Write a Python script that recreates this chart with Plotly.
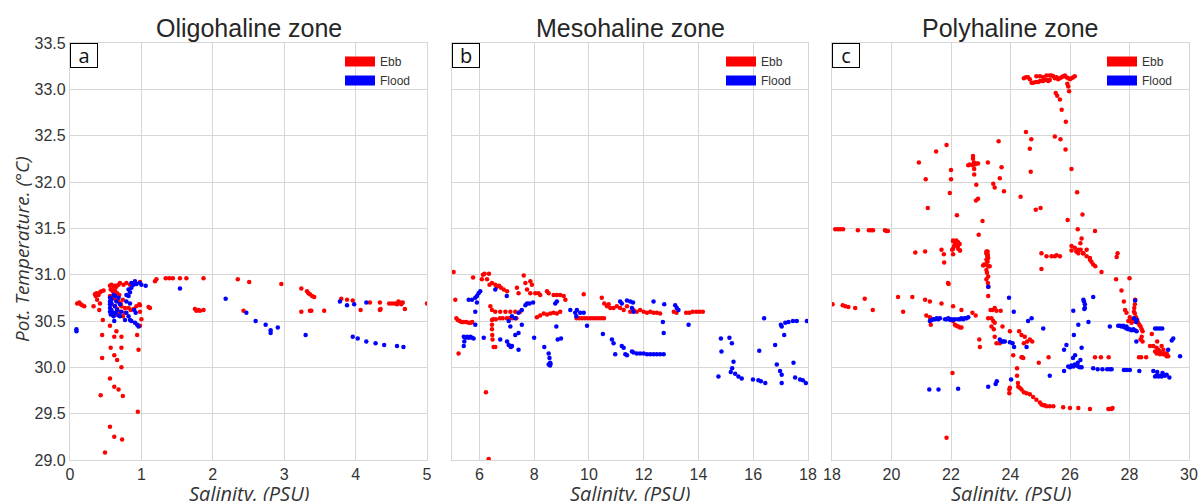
import plotly.graph_objects as go

# ---------------- data (salinity PSU, potential temperature °C) ----------------
a_ebb = [
    (0.10, 30.69), (0.13, 30.70), (0.15, 30.68), (0.17, 30.67), (0.20, 30.66),
    (0.35, 30.79), (0.37, 30.80), (0.40, 30.78), (0.42, 30.81), (0.44, 30.82), (0.47, 30.83),
    (0.33, 30.66), (0.36, 30.77), (0.38, 30.73), (0.42, 30.69), (0.41, 30.62),
    (0.56, 30.88), (0.58, 30.89), (0.61, 30.87), (0.63, 30.88), (0.65, 30.87), (0.57, 30.84),
    (0.60, 30.82), (0.63, 30.83), (0.66, 30.80), (0.69, 30.78), (0.56, 30.77), (0.61, 30.75),
    (0.64, 30.73), (0.68, 30.71), (0.71, 30.69), (0.58, 30.68), (0.63, 30.66), (0.66, 30.63),
    (0.70, 30.60), (0.61, 30.59), (0.65, 30.57), (0.72, 30.66), (0.74, 30.73), (0.68, 30.89),
    (0.70, 30.91), (0.75, 30.89), (0.79, 30.91), (0.84, 30.89), (0.91, 30.92), (0.82, 30.64),
    (0.85, 30.62), (0.89, 30.63), (0.93, 30.66), (0.97, 30.68), (0.98, 30.60), (0.77, 30.59),
    (0.74, 30.55), (0.77, 30.64), (1.10, 30.65), (1.12, 30.64), (1.21, 30.95), (1.19, 30.93),
    (0.46, 30.51), (0.45, 30.35), (0.45, 30.10), (0.56, 30.45), (0.62, 30.33), (0.65, 30.39),
    (0.72, 30.33), (0.57, 30.21), (0.72, 30.21), (0.62, 30.13), (0.66, 30.08), (0.72, 30.00),
    (0.94, 30.35), (0.96, 30.19), (0.56, 29.88), (0.62, 29.79), (0.68, 29.76), (0.43, 29.70),
    (0.74, 29.69), (0.95, 29.52), (0.56, 29.36), (0.62, 29.25), (0.73, 29.22), (0.49, 29.08),
    (0.98, 30.92), (0.98, 30.67), (1.00, 30.52), (0.98, 30.45),
    (1.34, 30.96), (1.39, 30.96), (1.44, 30.96), (1.54, 30.96), (1.63, 30.96), (1.87, 30.96),
    (1.75, 30.63), (1.77, 30.61), (1.80, 30.62), (1.82, 30.61), (1.87, 30.62), (2.35, 30.95),
    (2.51, 30.92), (2.43, 30.61), (2.96, 30.90), (3.24, 30.85), (3.32, 30.82), (3.34, 30.80),
    (3.36, 30.79), (3.39, 30.77), (3.42, 30.76), (3.24, 30.60), (3.36, 30.61), (3.38, 30.61),
    (3.56, 30.61), (3.80, 30.74), (3.88, 30.73), (3.96, 30.72), (4.07, 30.62), (4.20, 30.70),
    (4.34, 30.70), (4.34, 30.62), (4.35, 30.63), (4.47, 30.69), (4.51, 30.69), (4.55, 30.69),
    (4.58, 30.68), (4.62, 30.70), (4.66, 30.70), (4.60, 30.71), (4.64, 30.68), (4.69, 30.63),
    (5.00, 30.69),
]
a_flood = [
    (0.09, 30.41), (0.09, 30.39),
    (0.56, 30.75), (0.56, 30.71), (0.56, 30.68), (0.56, 30.64), (0.56, 30.60), (0.57, 30.57),
    (0.58, 30.69), (0.60, 30.59), (0.61, 30.55), (0.63, 30.66), (0.64, 30.59), (0.66, 30.62),
    (0.65, 30.71), (0.68, 30.56), (0.62, 30.50), (0.58, 30.73), (0.58, 30.62), (0.61, 30.78),
    (0.63, 30.77), (0.68, 30.75), (0.70, 30.68), (0.72, 30.60), (0.70, 30.55),
    (0.79, 30.78), (0.82, 30.77), (0.84, 30.81), (0.82, 30.84), (0.79, 30.71), (0.84, 30.69),
    (0.86, 30.86), (0.89, 30.89), (0.86, 30.91), (0.91, 30.93), (0.93, 30.90), (0.98, 30.91),
    (1.06, 30.88), (0.82, 30.55), (0.84, 30.51), (0.86, 30.50), (0.91, 30.48), (0.94, 30.46),
    (0.96, 30.44), (0.92, 30.59), (0.90, 30.62), (0.79, 30.59), (0.77, 30.51),
    (1.54, 30.85), (1.00, 30.89), (2.18, 30.74), (2.47, 30.59), (2.60, 30.50), (2.74, 30.46),
    (2.81, 30.40), (2.81, 30.37), (2.91, 30.43), (3.30, 30.35), (3.78, 30.71), (3.88, 30.67),
    (3.98, 30.68), (4.15, 30.70), (3.96, 30.33), (4.03, 30.31), (4.15, 30.28), (4.28, 30.26),
    (4.40, 30.24), (4.58, 30.23), (4.67, 30.22),
]
b_ebb = [
    (5.06, 31.03), (5.12, 30.73), (5.24, 30.15), (6.24, 29.73), (6.34, 29.01),
    (5.16, 30.53), (5.21, 30.51), (5.28, 30.50), (5.35, 30.49), (5.43, 30.49), (5.52, 30.49),
    (5.61, 30.48), (5.69, 30.48), (5.74, 30.49),
    (5.77, 30.97), (6.09, 30.95), (6.13, 31.00), (6.19, 31.01), (6.35, 31.01), (6.28, 30.95),
    (6.37, 30.89), (6.46, 30.91), (6.58, 30.89), (6.64, 30.87), (6.72, 30.88), (6.79, 30.86),
    (6.89, 30.84), (7.01, 30.82),
    (6.46, 30.51), (6.46, 30.46), (6.46, 30.41), (6.47, 30.35), (6.48, 30.30), (6.52, 30.22),
    (6.58, 30.22),
    (6.50, 30.52), (6.60, 30.52), (6.75, 30.53), (6.85, 30.53), (7.00, 30.53), (7.10, 30.53),
    (7.20, 30.53), (7.35, 30.53),
    (6.40, 30.66), (6.46, 30.62), (6.58, 30.60), (6.76, 30.60), (6.95, 30.60), (7.13, 30.60),
    (7.31, 30.60), (7.49, 30.60),
    (7.37, 30.86), (7.43, 30.80), (7.62, 30.99), (7.68, 30.91), (7.74, 30.84), (7.86, 30.93),
    (7.92, 30.89), (7.86, 30.80), (8.04, 30.80), (8.16, 30.80), (8.22, 30.78),
    (8.10, 30.54), (8.22, 30.56), (8.35, 30.58), (8.47, 30.57), (8.59, 30.58), (8.71, 30.59),
    (8.83, 30.58), (8.95, 30.60),
    (8.47, 30.82), (8.53, 30.80), (8.71, 30.78), (8.83, 30.78), (8.95, 30.78), (9.08, 30.77),
    (9.14, 30.73), (9.81, 30.79),
    (9.55, 30.53), (9.65, 30.53), (9.75, 30.53), (9.85, 30.53), (9.95, 30.53), (10.05, 30.53),
    (10.15, 30.53), (10.25, 30.53), (10.35, 30.53), (10.45, 30.53), (10.55, 30.53),
    (10.47, 30.75), (10.56, 30.69), (10.66, 30.66), (10.72, 30.68), (10.78, 30.64), (10.90, 30.64),
    (11.02, 30.66), (11.14, 30.64), (11.27, 30.62), (11.39, 30.66), (11.51, 30.60), (11.63, 30.62),
    (11.75, 30.60), (11.87, 30.62), (12.00, 30.60), (12.12, 30.59), (12.24, 30.60), (12.36, 30.59),
    (12.48, 30.59), (12.60, 30.58),
    (13.10, 30.60), (13.20, 30.59), (13.55, 30.59), (13.67, 30.59), (13.79, 30.60), (13.92, 30.60),
    (14.04, 30.60), (14.16, 30.60),
]
b_flood = [
    (5.43, 30.33), (5.45, 30.28), (5.43, 30.23), (5.49, 30.32), (5.61, 30.32), (5.73, 30.32),
    (5.79, 30.31), (5.67, 30.33), (5.55, 30.33),
    (5.61, 30.73), (5.73, 30.73), (5.85, 30.75), (5.91, 30.77), (5.97, 30.80), (6.03, 30.82),
    (5.85, 30.60), (5.91, 30.70), (5.85, 30.46),
    (6.16, 30.32), (6.58, 30.84), (6.76, 30.30),
    (7.01, 30.28), (7.07, 30.24), (7.13, 30.23), (7.19, 30.23), (7.15, 30.22), (7.43, 30.19),
    (7.00, 30.77), (7.07, 30.50), (7.13, 30.44), (7.19, 30.55), (7.31, 30.35), (7.43, 30.37),
    (7.55, 30.46), (7.31, 30.53), (7.43, 30.59), (7.55, 30.62), (7.68, 30.67), (7.74, 30.69),
    (7.83, 30.69), (7.96, 30.70),
    (8.00, 30.32), (8.37, 30.22),
    (8.53, 30.15), (8.56, 30.10), (8.58, 30.05), (8.58, 30.02), (8.53, 30.03), (8.60, 30.04),
    (8.77, 30.69), (8.83, 30.71), (8.81, 30.44), (8.86, 30.30), (8.98, 30.31),
    (9.32, 30.62), (9.50, 30.59), (9.56, 30.62), (9.68, 30.59), (9.54, 30.55), (9.93, 30.45),
    (9.81, 30.59), (10.51, 30.36),
    (10.84, 30.30), (10.90, 30.26), (10.96, 30.14), (11.20, 30.23), (11.27, 30.21), (11.33, 30.14),
    (11.39, 30.13), (11.57, 30.17), (11.63, 30.16), (11.75, 30.15), (11.87, 30.15), (12.00, 30.15),
    (12.12, 30.14), (12.24, 30.14), (12.36, 30.14), (12.48, 30.14), (12.60, 30.14), (12.73, 30.14),
    (11.14, 30.71), (11.20, 30.69), (11.39, 30.72), (11.51, 30.71), (11.61, 30.70), (11.57, 30.64),
    (11.63, 30.60), (12.36, 30.71), (12.75, 30.68), (12.70, 30.49), (12.73, 30.37), (13.15, 30.67),
    (13.21, 30.64), (13.27, 30.62), (13.64, 30.46),
    (14.73, 29.90), (14.82, 30.31), (14.84, 30.17), (15.13, 30.32), (15.22, 30.26), (15.28, 30.06),
    (15.23, 29.99), (15.18, 29.95), (15.34, 29.93), (15.46, 29.90), (15.58, 29.88), (15.99, 29.87),
    (16.19, 29.86), (16.28, 29.85), (16.44, 29.83), (16.40, 30.53), (16.22, 30.18), (16.80, 30.24),
    (16.86, 30.03), (16.98, 29.96), (17.04, 29.92), (17.04, 29.83), (17.01, 30.46), (17.13, 30.35),
    (17.04, 30.44), (17.17, 30.48), (17.29, 30.49), (17.45, 30.50), (17.59, 30.50), (17.96, 30.50),
    (17.47, 30.05), (17.53, 29.89), (17.71, 29.87), (17.81, 29.86), (17.92, 29.83),
]
c_ebb = [
    (24.45, 33.12), (24.52, 33.13), (24.59, 33.13), (24.65, 33.11), (24.71, 33.07), (24.76, 33.07),
    (24.85, 33.08), (24.93, 33.08), (24.99, 33.09), (25.04, 33.09), (25.10, 33.09), (25.15, 33.10),
    (25.21, 33.10), (25.27, 33.09), (25.32, 33.10), (25.38, 33.15), (25.44, 33.14), (25.49, 33.12),
    (25.55, 33.13), (25.60, 33.11), (25.66, 33.12), (25.72, 33.13), (25.77, 33.14), (25.83, 33.15),
    (25.88, 33.13), (25.94, 33.12), (26.00, 33.11), (26.05, 33.12), (26.11, 33.13), (26.16, 33.14),
    (24.87, 33.14), (24.99, 33.14), (25.10, 33.13), (25.21, 33.15), (25.32, 33.15), (25.91, 33.06),
    (25.94, 33.03), (25.97, 32.98),
    (25.52, 32.96), (25.57, 32.93), (25.66, 32.89), (25.72, 32.78), (25.86, 32.65),
    (24.52, 32.54), (24.70, 32.46), (24.65, 32.36), (24.68, 32.11), (25.49, 32.49), (25.68, 32.46),
    (25.85, 32.35), (26.05, 32.14),
    (23.60, 32.44), (23.70, 32.16), (23.64, 32.04), (23.42, 31.98), (23.47, 31.94), (23.78, 31.90),
    (23.24, 32.21),
    (22.74, 32.28), (22.74, 32.25), (22.77, 32.21), (22.80, 32.19), (22.72, 32.18), (22.63, 32.19),
    (22.58, 32.18), (22.85, 32.20), (22.91, 32.20), (22.78, 32.14), (22.78, 32.08),
    (21.85, 32.40), (21.50, 32.33), (20.92, 32.21), (21.15, 32.03), (22.00, 32.13), (22.00, 32.03),
    (21.96, 31.88), (21.22, 31.72), (22.20, 31.64), (22.85, 31.97), (22.84, 31.80), (22.91, 31.82),
    (23.06, 31.58), (22.93, 31.43), (24.34, 31.84), (24.85, 31.70), (25.01, 31.72), (25.92, 31.59),
    (26.42, 31.65), (26.24, 31.89), (26.26, 31.49), (26.84, 31.47), (26.39, 31.39),
    (18.11, 31.49), (18.20, 31.49), (18.28, 31.49), (18.37, 31.49), (18.87, 31.48), (19.24, 31.48),
    (19.32, 31.48), (19.38, 31.48), (19.78, 31.48), (19.83, 31.47), (19.88, 31.47),
    (22.12, 31.36), (22.18, 31.37), (22.24, 31.35), (22.29, 31.33), (22.07, 31.37),
    (22.07, 31.28), (22.30, 31.26), (21.13, 31.25),
    (23.23, 31.25), (23.23, 31.22), (23.23, 31.20),
    (25.04, 31.23), (25.21, 31.20), (25.38, 31.20), (25.49, 31.20), (25.55, 31.21), (25.66, 31.20),
    (26.05, 31.26), (26.22, 31.25), (26.28, 31.23), (26.36, 31.27), (26.45, 31.23), (26.56, 31.20),
    (26.67, 31.16), (27.57, 31.19),
    (22.07, 31.36), (22.13, 31.35), (22.18, 31.33), (22.24, 31.32), (22.10, 31.31), (22.21, 31.31),
    (22.04, 31.27), (22.07, 31.22), (22.24, 31.28), (22.30, 31.26), (21.76, 31.22), (21.68, 31.27),
    (21.77, 31.13), (21.90, 30.91),
    (23.19, 31.25), (23.19, 31.23), (23.21, 31.22), (23.23, 31.20), (23.25, 31.18), (23.19, 31.16),
    (23.23, 31.14), (23.16, 31.11), (23.11, 31.11), (23.25, 31.09), (23.19, 31.05), (23.21, 31.02),
    (23.25, 30.98), (23.19, 30.95), (23.24, 30.91), (23.26, 30.87), (23.30, 31.09), (23.08, 31.10),
    (20.80, 31.24), (25.04, 31.06),
    (26.05, 31.31), (26.16, 31.29), (26.22, 31.25), (26.28, 31.27), (26.35, 31.34), (26.44, 31.23),
    (26.56, 31.27), (26.67, 31.18), (26.72, 31.14), (26.78, 31.11), (26.85, 31.09), (27.06, 31.03),
    (27.60, 31.23), (27.55, 30.95), (28.00, 30.96), (27.73, 30.83), (27.81, 30.71), (28.19, 30.73),
    (28.18, 30.68), (28.16, 30.64), (28.15, 30.60), (28.18, 30.58), (28.22, 30.54), (28.26, 30.51),
    (28.29, 30.48), (28.33, 30.46), (28.37, 30.44), (28.41, 30.41), (28.44, 30.39), (28.41, 30.33),
    (28.37, 30.30), (28.44, 30.28), (28.13, 30.50), (28.07, 30.52), (28.01, 30.54), (27.90, 30.59),
    (27.85, 30.62), (27.96, 30.50), (28.07, 30.48),
    (28.75, 30.36), (28.93, 30.28), (28.69, 30.23), (28.80, 30.23), (28.91, 30.21), (28.97, 30.19),
    (29.02, 30.17), (29.08, 30.15), (29.14, 30.14), (29.19, 30.14), (29.25, 30.12), (29.30, 30.12),
    (29.02, 30.14), (29.08, 30.23), (29.14, 30.19), (29.19, 30.15), (28.91, 30.15), (28.86, 30.17),
    (29.25, 30.15),
    (28.32, 30.11), (28.39, 30.11), (28.56, 30.11), (26.84, 30.11), (27.04, 30.11), (27.30, 30.11),
    (25.28, 30.11), (24.95, 30.05), (24.39, 30.11),
    (20.22, 30.76), (20.70, 30.76), (21.13, 30.73), (21.29, 30.71), (20.39, 30.60), (21.68, 30.69),
    (22.07, 30.66), (22.35, 30.62), (22.72, 30.59), (22.83, 30.56), (21.17, 30.56), (21.29, 30.54),
    (21.32, 30.46), (21.92, 30.90),
    (22.07, 30.50), (22.13, 30.46), (22.18, 30.45), (22.24, 30.44), (22.30, 30.43), (22.35, 30.43),
    (23.25, 30.77), (23.33, 30.62), (23.40, 30.62), (23.47, 30.64), (23.53, 30.61), (23.67, 30.61),
    (23.25, 30.53), (23.36, 30.53), (23.42, 30.50), (23.36, 30.44), (23.47, 30.48), (23.44, 30.41),
    (23.47, 30.33), (23.53, 30.26), (23.64, 30.26), (23.70, 30.28),
    (22.95, 30.30), (22.97, 30.22), (24.09, 30.13), (24.37, 30.11), (24.43, 30.10),
    (23.73, 30.44), (23.98, 30.39), (24.29, 30.39), (24.37, 30.35), (24.48, 30.33), (24.45, 30.26),
    (24.56, 30.28), (24.65, 30.30), (24.73, 30.28),
    (24.22, 29.99), (24.22, 29.91), (24.25, 29.83), (24.26, 29.79), (24.31, 29.78), (24.37, 29.76),
    (24.45, 29.73), (24.54, 29.72), (24.65, 29.71), (24.76, 29.68), (24.87, 29.65), (24.99, 29.62),
    (25.04, 29.60), (25.10, 29.59), (25.15, 29.59), (25.21, 29.58), (25.32, 29.58), (25.44, 29.58),
    (25.77, 29.57), (26.00, 29.56), (26.28, 29.56), (26.67, 29.55), (27.29, 29.55), (27.34, 29.55),
    (27.40, 29.55), (27.43, 29.56),
    (23.96, 29.76), (23.96, 29.72), (23.98, 29.78), (21.85, 29.24), (22.05, 29.94),
    (18.02, 30.68), (18.36, 30.67), (18.45, 30.66), (18.55, 30.65), (18.78, 30.64), (19.10, 30.74),
    (19.37, 30.62),
]
c_flood = [
    (21.29, 30.50), (21.35, 30.51), (21.40, 30.52), (21.46, 30.52), (21.52, 30.53), (21.57, 30.52),
    (21.63, 30.53), (21.80, 30.52), (21.85, 30.52), (21.91, 30.53), (21.97, 30.51), (22.02, 30.52),
    (22.07, 30.51), (22.13, 30.52), (22.24, 30.52), (22.30, 30.52), (22.35, 30.53), (22.41, 30.52),
    (22.46, 30.53), (22.52, 30.53), (22.58, 30.54),
    (21.27, 29.76), (21.58, 29.76), (22.24, 29.77),
    (23.25, 30.87), (23.95, 30.75), (24.11, 30.60), (24.59, 30.50), (24.71, 30.53), (25.10, 30.42),
    (23.64, 30.30), (23.70, 30.28), (23.75, 30.28), (23.81, 30.28), (23.98, 30.27), (24.07, 30.26),
    (24.12, 30.22), (24.54, 30.22),
    (23.25, 29.79), (23.50, 29.82), (23.54, 29.85), (24.02, 29.87),
    (25.32, 29.91), (25.80, 29.96), (25.80, 30.19), (25.88, 30.24), (26.13, 30.35), (26.28, 30.46),
    (26.11, 30.61), (26.45, 30.73), (26.47, 30.71), (26.50, 30.68), (26.50, 30.64), (26.48, 30.63),
    (26.78, 30.76), (26.62, 30.49), (26.39, 30.21), (26.10, 30.10), (26.17, 30.13), (26.35, 30.08),
    (26.26, 30.05),
    (25.94, 30.01), (26.00, 30.00), (26.05, 30.02), (26.11, 30.01), (26.16, 30.03), (26.22, 30.02),
    (26.28, 30.01), (26.33, 30.00), (26.39, 30.00),
    (26.78, 29.99), (26.93, 29.98), (27.09, 29.98), (27.25, 29.98), (27.34, 29.98), (27.40, 29.98),
    (27.81, 29.97), (27.90, 29.97), (28.01, 29.97), (28.33, 29.96),
    (27.34, 30.44),
    (27.62, 30.45), (27.68, 30.45), (27.73, 30.44), (27.79, 30.44), (27.85, 30.43), (27.90, 30.42),
    (27.96, 30.41), (28.01, 30.41), (28.07, 30.40), (28.13, 30.41), (28.18, 30.40), (28.24, 30.39),
    (27.79, 30.45), (27.90, 30.44), (28.22, 30.49), (28.24, 30.51), (28.15, 30.53), (28.19, 30.72),
    (28.23, 30.28), (28.86, 30.42), (28.93, 30.42), (29.02, 30.42), (29.10, 30.42), (29.30, 30.19),
    (29.42, 30.29), (29.47, 30.31), (29.70, 30.12),
    (28.80, 29.96), (28.86, 29.90), (28.91, 29.91), (28.97, 29.90), (29.02, 29.91), (29.08, 29.90),
    (29.14, 29.92), (29.19, 29.91), (29.25, 29.92), (29.34, 29.89), (28.93, 29.95), (29.11, 29.94),
]

panel_titles = ["Oligohaline zone", "Mesohaline zone", "Polyhaline zone"]
panel_letters = ["a", "b", "c"]
x_ranges = [(0, 5), (5, 18), (18, 30)]
x_dticks = [1, 2, 2]
y_range = (29.0, 33.5)
series_names = ["Ebb", "Flood"]
series_colors = ["#ff0000", "#0000ff"]
x_label = "Salinity. (PSU)"
y_label = "Pot. Temperature. (°C)"

panels = [(a_ebb, a_flood), (b_ebb, b_flood), (c_ebb, c_flood)]

# ---------------- layout geometry ----------------
W, H = 1203, 501
x_domains = [(70 / W, 427 / W), (452 / W, 808 / W), (832 / W, 1189 / W)]
y_domain = (1 - 460 / H, 1 - 43 / H)

fig = go.Figure()
TXT = "#262626"
GRID = "#d6d6d6"
legend_ids = ["legend", "legend2", "legend3"]

for i, (ebb, flood) in enumerate(panels):
    xa = "x" if i == 0 else f"x{i+1}"
    ya = "y" if i == 0 else f"y{i+1}"
    for data, name, col in zip((ebb, flood), series_names, series_colors):
        xs = [p[0] for p in data]
        ys = [p[1] for p in data]
        fig.add_trace(go.Scatter(x=xs, y=ys, mode="markers", xaxis=xa, yaxis=ya,
                                 marker=dict(color=col, size=4.5, line=dict(width=0)),
                                 showlegend=False, hoverinfo="x+y"))
    # legend entries (patch-like keys)
    for name, col in zip(series_names, series_colors):
        fig.add_trace(go.Scatter(x=[None], y=[None], mode="lines", xaxis=xa, yaxis=ya,
                                 line=dict(color=col, width=10), name=name,
                                 legend=legend_ids[i], showlegend=True))

layout = dict(width=W, height=H, margin=dict(l=0, r=0, t=0, b=0),
              paper_bgcolor="white", plot_bgcolor="white",
              font=dict(family="Liberation Sans, Arial, sans-serif", color=TXT))

for i in range(3):
    xk = "xaxis" if i == 0 else f"xaxis{i+1}"
    yk = "yaxis" if i == 0 else f"yaxis{i+1}"
    layout[xk] = dict(domain=list(x_domains[i]), range=list(x_ranges[i]), dtick=x_dticks[i],
                      tick0=0, showgrid=True, gridcolor=GRID, gridwidth=1.3,
                      showline=True, linecolor=GRID, linewidth=1.3, mirror=True,
                      zeroline=False, ticks="", automargin=False,
                      tickfont=dict(size=16, color="#333333"),
                      anchor="y" if i == 0 else f"y{i+1}")
    layout[yk] = dict(domain=list(y_domain), range=list(y_range), dtick=0.5,
                      tickformat=".1f", showgrid=True, gridcolor=GRID, gridwidth=1.3,
                      showline=True, linecolor=GRID, linewidth=1.3, mirror=True,
                      zeroline=False, ticks="", automargin=False,
                      showticklabels=(i == 0),
                      tickfont=dict(size=16, color="#333333"),
                      anchor="x" if i == 0 else f"x{i+1}")
    lx = (x_domains[i][1] * W - 87) / W
    layout[legend_ids[i]] = dict(x=lx, xanchor="left", y=1 - 47 / H, yanchor="top",
                                 bgcolor="rgba(255,255,255,0)", borderwidth=0,
                                 font=dict(size=12, color="#333333"),
                                 itemwidth=30, tracegroupgap=0)

fig.update_layout(**layout)

ann = []
for i in range(3):
    cx = (x_domains[i][0] + x_domains[i][1]) / 2
    ann.append(dict(text=panel_titles[i], x=cx, y=1 - 28 / H, xref="paper", yref="paper",
                    xanchor="center", yanchor="middle", showarrow=False,
                    font=dict(size=25, color=TXT, family="Liberation Sans, Arial, sans-serif")))
    ann.append(dict(text=x_label, x=cx, y=1 - 493 / H, xref="paper", yref="paper",
                    xanchor="center", yanchor="middle", showarrow=False, height=16,
                    font=dict(size=20, color="#333333", family="Open Sans, sans-serif", style="italic")))
    ann.append(dict(text=panel_letters[i], x=x_domains[i][0], y=y_domain[1], xref="paper", yref="paper",
                    xanchor="left", yanchor="top", showarrow=False,
                    bordercolor="#000000", borderwidth=1, borderpad=1, bgcolor="white",
                    width=24, height=21,
                    font=dict(size=20, color="#111111", family="Open Sans, sans-serif")))
ann.append(dict(text=y_label, x=22 / W, y=1 - 249 / H, xref="paper", yref="paper",
                xanchor="center", yanchor="middle", showarrow=False, textangle=-90,
                font=dict(size=19, color="#333333", family="Open Sans, sans-serif", style="italic")))
fig.update_layout(annotations=ann)

fig.write_html("out.html", config={"displayModeBar": False},
               post_script="document.body.style.margin='0';document.body.style.overflow='hidden';")
